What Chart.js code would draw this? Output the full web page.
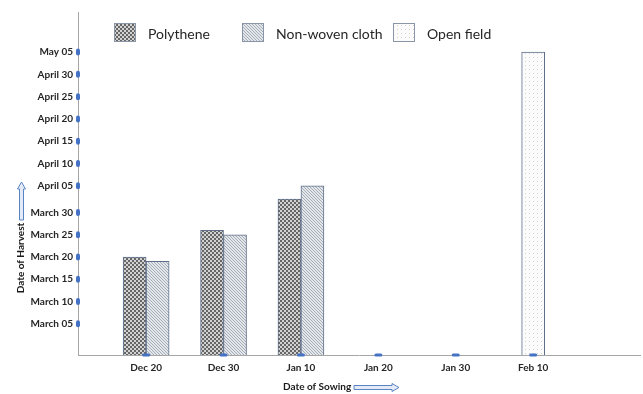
<!DOCTYPE html>
<html>
<head>
<meta charset="utf-8">
<script src="https://cdn.jsdelivr.net/npm/chart.js@4.4.1/dist/chart.umd.min.js"></script>
<style>
  html, body { margin: 0; padding: 0; background: #fff; }
  #wrap { width: 643px; height: 394px; position: relative; }
</style>
</head>
<body>
<div id="wrap"><canvas id="chart"></canvas></div>
<script>
// sowing dates (x categories)
const sowingDates = ["Dec 20", "Dec 30", "Jan 10", "Jan 20", "Jan 30", "Feb 10"];
const seriesNames = ["Polythene", "Non-woven cloth", "Open field"];

// harvest dates as MM-DD, null where there is no bar
const polythene = ["03-20", "03-26", "04-02", null, null, null];
const nonWoven = ["03-19", "03-25", "04-05", null, null, null];
const openField = [null, null, null, null, null, "05-05"];

// y axis ticks
const harvestTicks = ["03-05", "03-10", "03-15", "03-20", "03-25", "03-30",
  "04-05", "04-10", "04-15", "04-20", "04-25", "04-30", "05-05"];
const harvestTickLabels = ["March 05", "March 10", "March 15", "March 20", "March 25", "March 30",
  "April 05", "April 10", "April 15", "April 20", "April 25", "April 30", "May 05"];
const harvestMin = "02-26";
const harvestMax = "05-14";

function dayOfYear(s) {
  const [m, d] = s.split("-").map(Number);
  return (Date.UTC(2021, m - 1, d) - Date.UTC(2021, 0, 1)) / 86400000 + 1;
}

const canvas = document.getElementById("chart");
const mainCtx = canvas.getContext("2d");

function makePattern(size, draw) {
  const c = document.createElement("canvas");
  c.width = c.height = size;
  draw(c.getContext("2d"));
  return mainCtx.createPattern(c, "repeat");
}

const polyPattern = makePattern(4, (g) => {
  g.fillStyle = "#d2d2d2";
  g.fillRect(0, 0, 4, 4);
  g.fillStyle = "#666666";
  g.fillRect(0, 0, 2, 2);
  g.fillRect(2, 2, 2, 2);
});
const wovenPattern = makePattern(3, (g) => {
  g.fillStyle = "#e3e7eb";
  g.fillRect(0, 0, 3, 3);
  g.fillStyle = "#a5adb7";
  for (let i = 0; i < 3; i++) g.fillRect(i, i, 1, 1);
});
const openPattern = makePattern(4, (g) => {
  g.fillStyle = "#fbfbfb";
  g.fillRect(0, 0, 4, 4);
  g.fillStyle = "#d2d2d2";
  g.fillRect(1, 1, 1, 1);
});

const toPoints = (arr) => arr.map((v, i) => ({ x: i, y: v ? dayOfYear(v) : null }));

const labelFont = "Lato, 'Open Sans', sans-serif";
const legendX = [114, 242, 393]; // legend item left edges

function roundRect(ctx, x, y, w, h, r) {
  ctx.beginPath();
  ctx.roundRect(x, y, w, h, r);
  ctx.fill();
}

const decorations = {
  id: "decorations",
  afterDatasetsDraw(chart) {
    const { ctx, scales: { x, y } } = chart;
    ctx.save();
    ctx.fillStyle = "#4472c4";
    y.ticks.forEach((t) => {
      roundRect(ctx, x.left - 2, y.getPixelForValue(t.value) - 3.5, 4, 7, 2);
    });
    x.ticks.forEach((t) => {
      roundRect(ctx, x.getPixelForValue(t.value) - 4, y.bottom - 1.5, 8, 3, 1.5);
    });
    ctx.restore();
  },
  afterDraw(chart) {
    const ctx = chart.ctx;
    ctx.save();

    // legend
    chart.data.datasets.forEach((ds, i) => {
      const lx = legendX[i];
      ctx.fillStyle = ds.backgroundColor;
      ctx.fillRect(lx, 23, 22, 19);
      ctx.strokeStyle = "#8a96a8";
      ctx.lineWidth = 1;
      ctx.strokeRect(lx + 0.5, 23.5, 21, 18);
      ctx.fillStyle = "#262626";
      ctx.font = "14px " + labelFont;
      ctx.textBaseline = "middle";
      ctx.textAlign = "left";
      ctx.fillText(ds.label, lx + 34, 34);
    });

    // y axis title + arrow
    ctx.fillStyle = "#1a1a1a";
    ctx.font = "bold 10px " + labelFont;
    ctx.save();
    ctx.translate(21, 258);
    ctx.rotate(-Math.PI / 2);
    ctx.textAlign = "center";
    ctx.textBaseline = "middle";
    ctx.fillText("Date of Harvest", 0, 0);
    ctx.restore();

    ctx.strokeStyle = "#5b84c4";
    ctx.fillStyle = "#e4ebf7";
    ctx.lineWidth = 1;
    ctx.beginPath();
    ctx.moveTo(19.5, 220);
    ctx.lineTo(19.5, 189);
    ctx.lineTo(17.5, 189);
    ctx.lineTo(21.5, 182);
    ctx.lineTo(25.5, 189);
    ctx.lineTo(23.5, 189);
    ctx.lineTo(23.5, 220);
    ctx.closePath();
    ctx.fill();
    ctx.stroke();

    // x axis title + arrow
    ctx.fillStyle = "#1a1a1a";
    ctx.textAlign = "left";
    ctx.textBaseline = "middle";
    ctx.fillText("Date of Sowing", 283, 387);

    ctx.fillStyle = "#e4ebf7";
    ctx.beginPath();
    ctx.moveTo(354, 385.5);
    ctx.lineTo(392, 385.5);
    ctx.lineTo(392, 383.5);
    ctx.lineTo(399, 387.5);
    ctx.lineTo(392, 391.5);
    ctx.lineTo(392, 389.5);
    ctx.lineTo(354, 389.5);
    ctx.closePath();
    ctx.fill();
    ctx.stroke();

    ctx.restore();
  },
};

const barStyle = {
  borderColor: "#5f6f8a",
  borderWidth: 1,
  barThickness: 23,
  skipNull: true,
};

new Chart(canvas, {
  type: "bar",
  data: {
    datasets: [
      { label: seriesNames[0], data: toPoints(polythene), backgroundColor: polyPattern, ...barStyle },
      { label: seriesNames[1], data: toPoints(nonWoven), backgroundColor: wovenPattern, ...barStyle },
      { label: seriesNames[2], data: toPoints(openField), backgroundColor: openPattern, ...barStyle },
    ],
  },
  options: {
    responsive: true,
    maintainAspectRatio: false,
    animation: false,
    layout: { padding: { top: 12, right: 3, left: 0, bottom: 0 } },
    plugins: {
      legend: { display: false },
      tooltip: { enabled: false },
    },
    scales: {
      x: {
        type: "linear",
        offset: false,
        min: -0.88,
        max: 6.38,
        grid: { display: false, drawTicks: false },
        border: { color: "#a6a6a6", width: 1 },
        afterBuildTicks: (scale) => {
          scale.ticks = sowingDates.map((_, i) => ({ value: i }));
        },
        afterFit: (scale) => {
          scale.height = 39;
        },
        ticks: {
          autoSkip: false,
          maxRotation: 0,
          padding: 7,
          color: "#262626",
          font: { family: labelFont, size: 10, weight: "bold" },
          callback: (v) => sowingDates[v],
        },
      },
      y: {
        type: "linear",
        beginAtZero: false,
        min: dayOfYear(harvestMin),
        max: dayOfYear(harvestMax),
        grid: { display: false, drawTicks: false },
        border: { color: "#a6a6a6", width: 1 },
        afterBuildTicks: (scale) => {
          scale.ticks = harvestTicks.map((d) => ({ value: dayOfYear(d) }));
        },
        afterFit: (scale) => {
          scale.width = 78;
        },
        ticks: {
          autoSkip: false,
          padding: 5,
          color: "#262626",
          font: { family: labelFont, size: 10, weight: "bold" },
          callback: (v) => harvestTickLabels[harvestTicks.findIndex((d) => dayOfYear(d) === v)],
        },
      },
    },
  },
  plugins: [decorations],
});
</script>
</body>
</html>
